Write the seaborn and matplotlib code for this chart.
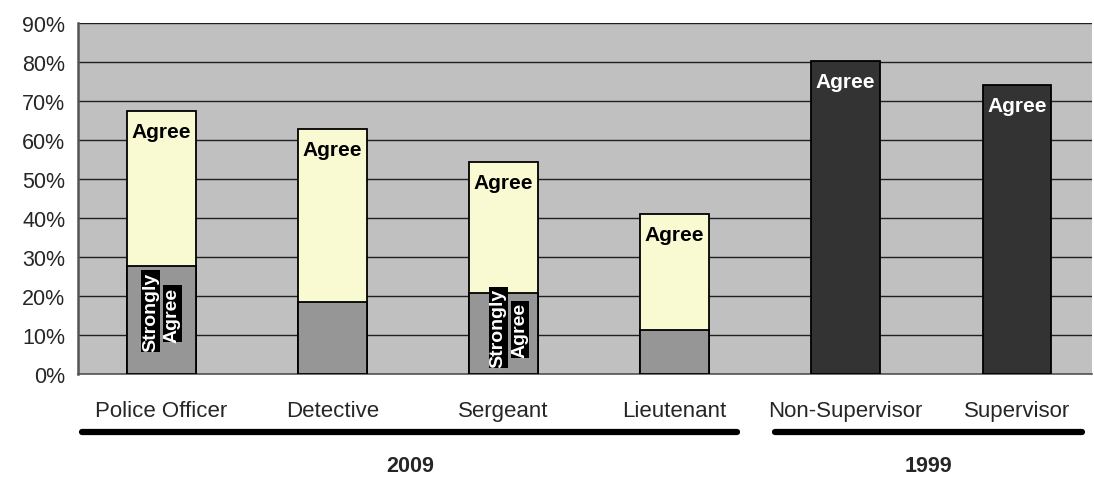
import numpy as np
import pandas as pd
import matplotlib
matplotlib.use("Agg")
import matplotlib.pyplot as plt
import seaborn as sns

# values (fractions)
categories = ["Police Officer", "Detective", "Sergeant", "Lieutenant", "Non-Supervisor", "Supervisor"]
total_agree = [0.674, 0.628, 0.543, 0.410, 0.802, 0.742]
strongly_agree = [0.278, 0.185, 0.208, 0.113, 0.0, 0.0]
survey_year = ["2009", "2009", "2009", "2009", "1999", "1999"]
y_ticks = [0, 0.1, 0.2, 0.3, 0.4, 0.5, 0.6, 0.7, 0.8, 0.9]

BG = "#C0C0C0"
YELLOW = "#FFFFCC"
GRAY = "#969696"
DARK = "#333333"

sns.set_style("white")
plt.rcParams["font.family"] = ["Liberation Sans", "DejaVu Sans"]

df = pd.DataFrame({"category": categories, "total": total_agree,
                   "strong": strongly_agree, "year": survey_year})
top_colors = [YELLOW if y == "2009" else DARK for y in survey_year]

fig = plt.figure(figsize=(10.94, 4.81), dpi=100)
ax = fig.add_axes([78 / 1094, 1 - 375 / 481, (1092 - 78) / 1094, (375 - 24) / 481])
ax.set_facecolor(BG)

sns.barplot(data=df, x="category", y="total", hue="category", palette=top_colors,
            legend=False, width=0.4, edgecolor="black", linewidth=1.3, ax=ax, zorder=3)
sns.barplot(data=df[df["strong"] > 0], x="category", y="strong", color=GRAY,
            width=0.4, edgecolor="black", linewidth=1.3, ax=ax, zorder=4)

ax.set_xlim(-0.488, 5.44)
ax.set_ylim(0, 0.9)
ax.set_yticks(y_ticks)
ax.set_yticklabels([f"{int(round(t * 100))}%" for t in y_ticks], fontsize=15.5)
ax.yaxis.grid(True, color="#202020", linewidth=1.0, zorder=0)
ax.set_axisbelow(True)
ax.tick_params(axis="y", direction="out", length=5, width=1, color="#333333", pad=4)
ax.tick_params(axis="x", length=0, pad=19, labelsize=16)
ax.set_xlabel("")
ax.set_ylabel("")
for s in ["top", "right"]:
    ax.spines[s].set_visible(False)
ax.spines["left"].set_color("#555555")
ax.spines["left"].set_linewidth(1.8)
ax.spines["bottom"].set_color("#555555")
ax.spines["bottom"].set_linewidth(1.2)

# "Agree" labels near top of each bar
for i, (tot, yr) in enumerate(zip(total_agree, survey_year)):
    ax.text(i, tot - 0.028, "Agree", ha="center", va="top", fontsize=15,
            fontweight="bold", color="black" if yr == "2009" else "white", zorder=6)

# rotated "Strongly / Agree" labels on black boxes
inner_labels = [(0, -0.064, 0.1615, "Strongly"), (0, 0.064, 0.154, "Agree"),
                (2, -0.032, 0.12, "Strongly"), (2, 0.096, 0.113, "Agree")]
for i, dx, yy, txt in inner_labels:
    ax.text(i + dx, yy, txt, rotation=90, ha="center", va="center", fontsize=14,
            fontweight="bold", color="white", zorder=6,
            bbox=dict(boxstyle="square,pad=0.05", facecolor="black", edgecolor="none"))

# year group brackets below the axis
def fx(px):
    return px / 1094

def fy(py):
    return 1 - py / 481

for x0, x1 in [(82, 737), (775, 1082)]:
    fig.add_artist(plt.Line2D([fx(x0), fx(x1)], [fy(433), fy(433)], color="black",
                              linewidth=4.5, solid_capstyle="round"))
fig.text(fx(410), fy(466), "2009", ha="center", va="center", fontsize=15.5, fontweight="bold")
fig.text(fx(928), fy(466), "1999", ha="center", va="center", fontsize=15.5, fontweight="bold")

fig.savefig("out.png", dpi=100, facecolor="white")
